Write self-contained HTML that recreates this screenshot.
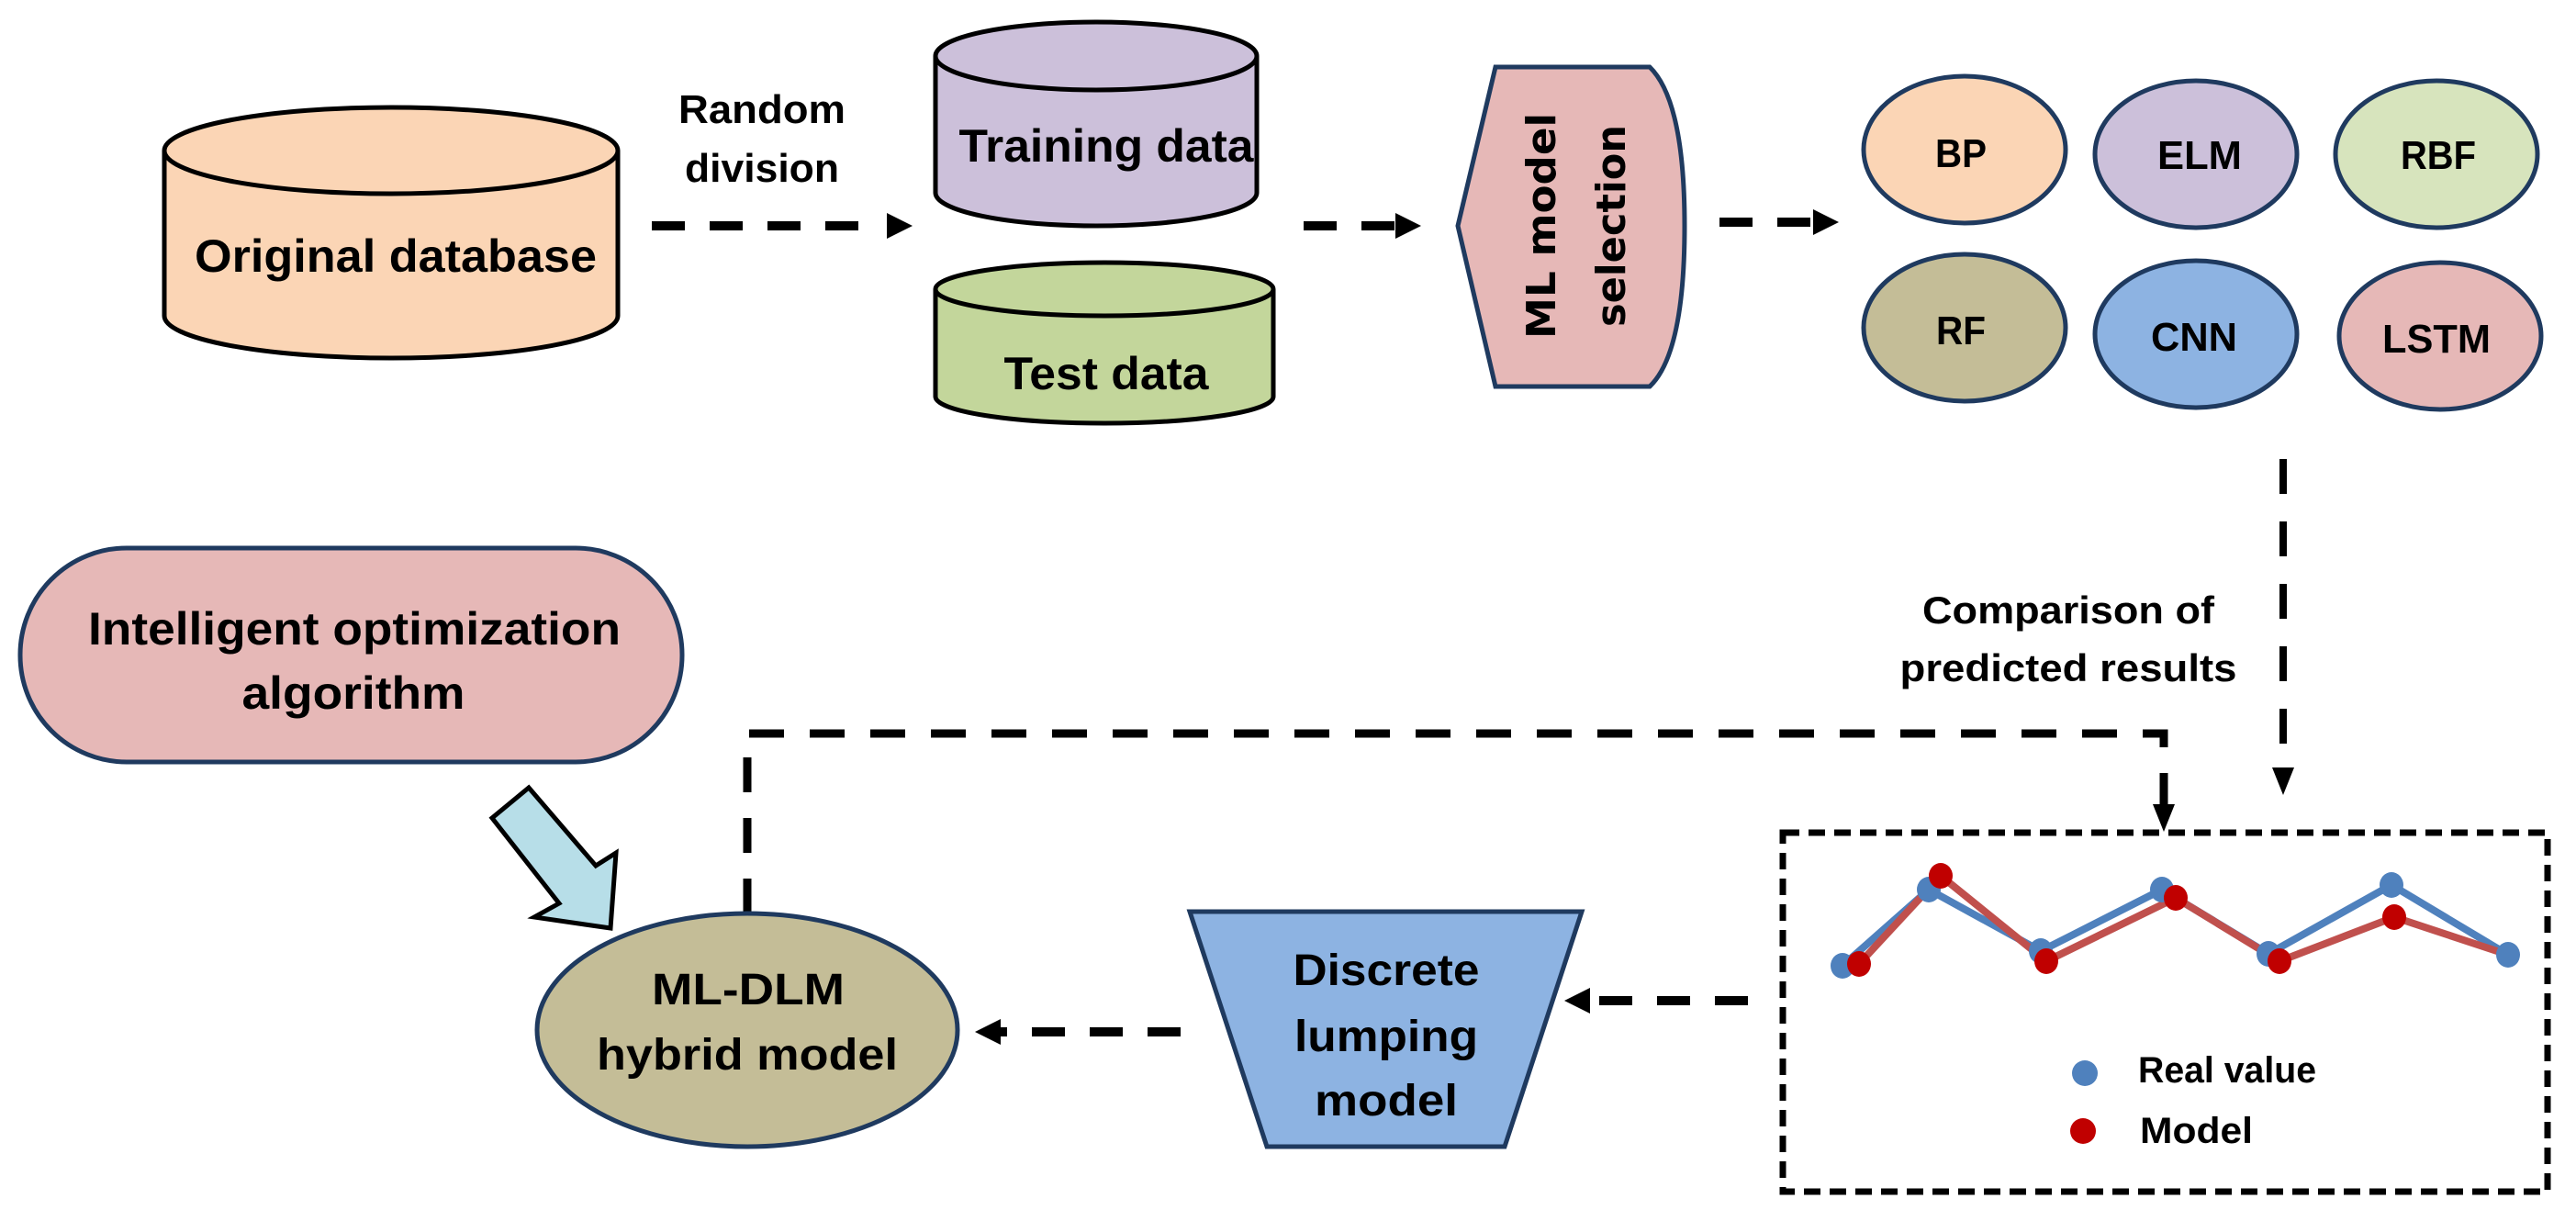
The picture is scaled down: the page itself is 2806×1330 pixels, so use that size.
<!DOCTYPE html>
<html><head><meta charset="utf-8"><style>
html,body{margin:0;padding:0;background:#fff;}
svg{display:block;}
text{font-family:"Liberation Sans",sans-serif;font-weight:bold;fill:#000;}
</style></head><body>
<svg width="2806" height="1330" viewBox="0 0 2806 1330" xmlns="http://www.w3.org/2000/svg">
<rect width="2806" height="1330" fill="#fff"/>

<!-- Original database -->
<g stroke="#000" stroke-width="5">
<path d="M179,164 L179,344 A247,46 0 0 0 673,344 L673,164" fill="#fbd5b5"/>
<ellipse cx="426" cy="164" rx="247" ry="47" fill="#fbd5b5"/>
</g>
<text x="431" y="296" font-size="50" text-anchor="middle" textLength="438" lengthAdjust="spacingAndGlyphs">Original database</text>

<!-- Random division -->
<text x="830" y="134" font-size="44" text-anchor="middle" textLength="182" lengthAdjust="spacingAndGlyphs">Random</text>
<text x="830" y="198" font-size="44" text-anchor="middle" textLength="168" lengthAdjust="spacingAndGlyphs">division</text>
<line x1="710" y1="246" x2="962" y2="246" stroke="#000" stroke-width="10" stroke-dasharray="36,27"/>
<path d="M966,232 L994,246 L966,260 Z" fill="#000"/>

<!-- Training data -->
<g stroke="#000" stroke-width="5">
<path d="M1019,61 L1019,210 A175,36 0 0 0 1369,210 L1369,61" fill="#ccc0da"/>
<ellipse cx="1194" cy="61" rx="175" ry="37" fill="#ccc0da"/>
</g>
<text x="1205" y="176" font-size="50" text-anchor="middle" textLength="321" lengthAdjust="spacingAndGlyphs">Training data</text>

<!-- Test data -->
<g stroke="#000" stroke-width="5">
<path d="M1019,315 L1019,432 A184,29 0 0 0 1387,432 L1387,315" fill="#c3d69b"/>
<ellipse cx="1203" cy="315" rx="184" ry="29" fill="#c3d69b"/>
</g>
<text x="1205" y="424" font-size="50" text-anchor="middle" textLength="223" lengthAdjust="spacingAndGlyphs">Test data</text>

<!-- arrow 2 -->
<line x1="1420" y1="246" x2="1525" y2="246" stroke="#000" stroke-width="10" stroke-dasharray="36,27"/>
<path d="M1520,232 L1548,246 L1520,260 Z" fill="#000"/>

<!-- ML model selection -->
<path d="M1629,73 L1797,73 Q1835,110 1835,246 Q1835,385 1797,421 L1629,421 L1588,246 Z" fill="#e6b8b7" stroke="#1f3a5f" stroke-width="5"/>
<text transform="translate(1694,246) rotate(-90)" x="0" y="0" font-size="44" text-anchor="middle" style="font-family:'DejaVu Sans',sans-serif" textLength="246" lengthAdjust="spacingAndGlyphs">ML model</text>
<text transform="translate(1770,246) rotate(-90)" x="0" y="0" font-size="44" text-anchor="middle" style="font-family:'DejaVu Sans',sans-serif" textLength="220" lengthAdjust="spacingAndGlyphs">selection</text>

<!-- arrow 3 -->
<line x1="1873" y1="242" x2="1980" y2="242" stroke="#000" stroke-width="10" stroke-dasharray="36,27"/>
<path d="M1975,228 L2003,242 L1975,256 Z" fill="#000"/>

<!-- model ellipses -->
<g stroke="#1f3a5f" stroke-width="5">
<ellipse cx="2140" cy="163" rx="110" ry="80" fill="#fbd5b5"/>
<ellipse cx="2392" cy="168" rx="110" ry="80" fill="#ccc0da"/>
<ellipse cx="2654" cy="168" rx="110" ry="80" fill="#d7e4bd"/>
<ellipse cx="2140" cy="357" rx="110" ry="80" fill="#c4bd97"/>
<ellipse cx="2392" cy="364" rx="110" ry="80" fill="#8db3e2"/>
<ellipse cx="2658" cy="366" rx="110" ry="80" fill="#e6b8b7"/>
</g>
<g font-size="44" text-anchor="middle">
<text x="2136" y="182" textLength="56" lengthAdjust="spacingAndGlyphs">BP</text>
<text x="2396" y="184" textLength="92" lengthAdjust="spacingAndGlyphs">ELM</text>
<text x="2656" y="184" textLength="82" lengthAdjust="spacingAndGlyphs">RBF</text>
<text x="2136" y="375" textLength="54" lengthAdjust="spacingAndGlyphs">RF</text>
<text x="2390" y="382" textLength="94" lengthAdjust="spacingAndGlyphs">CNN</text>
<text x="2654" y="384" textLength="118" lengthAdjust="spacingAndGlyphs">LSTM</text>
</g>

<!-- vertical down arrow -->
<line x1="2487" y1="500" x2="2487" y2="838" stroke="#000" stroke-width="8" stroke-dasharray="38,30"/>
<path d="M2475,836 L2499,836 L2487,866 Z" fill="#000"/>
<text x="2253" y="679" font-size="42" text-anchor="middle" textLength="318" lengthAdjust="spacingAndGlyphs">Comparison of</text>
<text x="2253" y="742" font-size="42" text-anchor="middle" textLength="367" lengthAdjust="spacingAndGlyphs">predicted results</text>

<!-- Intelligent optimization algorithm -->
<rect x="22" y="597" width="721" height="233" rx="116" ry="116" fill="#e6b8b7" stroke="#1f3a5f" stroke-width="5"/>
<text x="386" y="702" font-size="50" text-anchor="middle" textLength="580" lengthAdjust="spacingAndGlyphs">Intelligent optimization</text>
<text x="385" y="772" font-size="50" text-anchor="middle" textLength="243" lengthAdjust="spacingAndGlyphs">algorithm</text>

<!-- block arrow -->
<path d="M576,858 L649,943 L671,929 L665,1011 L582,999 L609,984 L536,891 Z" fill="#b7dee8" stroke="#000" stroke-width="5"/>

<!-- feedback dashed -->
<path d="M814,995 L814,799 L2357,799 L2357,878" fill="none" stroke="#000" stroke-width="9" stroke-dasharray="38,28"/>
<path d="M2345,876 L2369,876 L2357,906 Z" fill="#000"/>

<!-- ML-DLM -->
<ellipse cx="814" cy="1122" rx="229" ry="127" fill="#c4bd97" stroke="#1f3a5f" stroke-width="5"/>
<text x="815" y="1094" font-size="48" text-anchor="middle" textLength="210" lengthAdjust="spacingAndGlyphs">ML-DLM</text>
<text x="814" y="1165" font-size="48" text-anchor="middle" textLength="328" lengthAdjust="spacingAndGlyphs">hybrid model</text>

<!-- arrow discrete -> ML-DLM -->
<line x1="1286" y1="1124" x2="1090" y2="1124" stroke="#000" stroke-width="10" stroke-dasharray="36,27"/>
<path d="M1090,1110 L1062,1124 L1090,1138 Z" fill="#000"/>

<!-- Discrete lumping model -->
<path d="M1296,993 L1723,993 L1639,1249 L1380,1249 Z" fill="#8db3e2" stroke="#1f3a5f" stroke-width="5"/>
<text x="1510" y="1073" font-size="48" text-anchor="middle" textLength="203" lengthAdjust="spacingAndGlyphs">Discrete</text>
<text x="1510" y="1145" font-size="48" text-anchor="middle" textLength="200" lengthAdjust="spacingAndGlyphs">lumping</text>
<text x="1510" y="1215" font-size="48" text-anchor="middle" textLength="156" lengthAdjust="spacingAndGlyphs">model</text>

<!-- arrow box -> discrete -->
<line x1="1904" y1="1090" x2="1730" y2="1090" stroke="#000" stroke-width="10" stroke-dasharray="36,27"/>
<path d="M1732,1076 L1704,1090 L1732,1104 Z" fill="#000"/>

<!-- dashed box -->
<rect x="1942" y="907" width="833" height="391" fill="none" stroke="#000" stroke-width="7" stroke-dasharray="18,10"/>

<!-- chart -->
<polyline points="2007,1052 2101,969 2223,1036 2355,969 2471,1039 2605,964 2732,1040" fill="none" stroke="#4f81bd" stroke-width="8"/>
<polyline points="2025,1050 2114,954 2229,1047 2370,978 2483,1047 2608,999 2732,1040" fill="none" stroke="#c0504d" stroke-width="8"/>
<g fill="#4f81bd">
<ellipse cx="2007" cy="1052" rx="13" ry="14"/><ellipse cx="2101" cy="969" rx="13" ry="14"/><ellipse cx="2223" cy="1036" rx="13" ry="14"/><ellipse cx="2355" cy="969" rx="13" ry="14"/><ellipse cx="2471" cy="1039" rx="13" ry="14"/><ellipse cx="2605" cy="964" rx="13" ry="14"/><ellipse cx="2732" cy="1040" rx="13" ry="14"/>
<ellipse cx="2271" cy="1169" rx="14" ry="14"/>
</g>
<g fill="#c00000">
<ellipse cx="2025" cy="1050" rx="13" ry="14"/><ellipse cx="2114" cy="954" rx="13" ry="14"/><ellipse cx="2229" cy="1047" rx="13" ry="14"/><ellipse cx="2370" cy="978" rx="13" ry="14"/><ellipse cx="2483" cy="1047" rx="13" ry="14"/><ellipse cx="2608" cy="999" rx="13" ry="14"/>
<ellipse cx="2269" cy="1232" rx="14" ry="14"/>
</g>
<text x="2329" y="1179" font-size="40" textLength="194" lengthAdjust="spacingAndGlyphs">Real value</text>
<text x="2331" y="1245" font-size="40" textLength="123" lengthAdjust="spacingAndGlyphs">Model</text>
</svg>
</body></html>
